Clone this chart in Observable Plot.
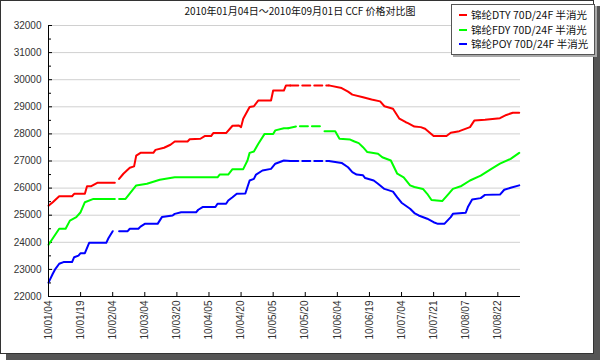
<!DOCTYPE html>
<html>
<head>
<meta charset="utf-8">
<script src="https://cdn.jsdelivr.net/npm/d3@7"></script>
<script src="https://cdn.jsdelivr.net/npm/@observablehq/plot@0.6"></script>
<style>
  html, body { margin: 0; padding: 0; background: #fff; }
  #wrap { position: relative; width: 600px; height: 360px; overflow: hidden; background: #fff; }
  #shadow { position: absolute; left: 6px; top: 6px; width: 594px; height: 354px; background: #555; }
  #panel { position: absolute; left: 0; top: 0; width: 592px; height: 352px; background: #fff; border: 1px solid #333; }
  #chart { position: absolute; left: 0; top: 0; }
  #title { position: absolute; left: 0; width: 600px; top: 3px; text-align: center;
           font: 10px "Noto Sans CJK SC", sans-serif; color: #111; white-space: nowrap; }
  #legend { position: absolute; left: 451px; top: 4px; width: 142px; height: 49px; background: #fff;
            border: 1px solid #555; box-shadow: 2px 2px 0 #aaa; font: 10.5px "Noto Sans CJK SC", sans-serif; color: #111; }
  .row { position: absolute; left: 0; height: 14px; line-height: 14px; white-space: nowrap; }
  .sw { position: absolute; left: 7px; top: 6px; width: 8px; height: 2px; }
  .lb { position: absolute; left: 19px; top: 0; }
</style>
</head>
<body>
<div id="wrap">
  <div id="shadow"></div>
  <div id="panel"></div>
  <div id="chart"></div>
  <div id="title"></div>
  <div id="legend"></div>
</div>
<script>
const titleText = "2010年01月04日～2010年09月01日 CCF 价格对比图";
const seriesNames = ["锦纶DTY 70D/24F 半消光", "锦纶FDY 70D/24F 半消光", "锦纶POY 70D/24F 半消光"];
const seriesColors = ["#ff0000", "#00ff00", "#0000ff"];

const xTickIdx = [0, 15, 30, 45, 60, 75, 90, 105, 120, 135, 150, 165, 180, 195, 210];
const xTickLabels = ["10/01/04", "10/01/19", "10/02/04", "10/03/04", "10/03/20", "10/04/05", "10/04/20",
  "10/05/05", "10/05/20", "10/06/04", "10/06/19", "10/07/04", "10/07/21", "10/08/07", "10/08/22"];
const yTicks = [22000, 23000, 24000, 25000, 26000, 27000, 28000, 29000, 30000, 31000, 32000];

// missing day (gap) after these indices, and dashed (no-quote) ranges
const gapAt = [32, 32, 32];
const dashRanges = [[113, 131], [112, 128.5], [113, 131]];

const dtyX = [0,2,5,11,12,17,18,20,23,31, 33,35,38,40,41,43,49,50,54,57,59,65,66,71,73,76,77,83,86,89,90,91,94,96,98,104,105,110,111,113,
  131,137,140,142,147,151,155,157,161,164,167,168,171,174,176,180,186,188,192,197,199,204,211,214,217,220];
const dtyY = [25350,25480,25700,25700,25790,25790,26070,26070,26200,26200, 26340,26530,26750,26800,27200,27300,27300,27410,27490,27600,27720,27720,27800,27820,27920,27920,28030,28030,28300,28310,28250,28560,28990,29020,29230,29230,29600,29600,29790,29790,
  29790,29690,29560,29450,29350,29270,29200,29020,28930,28560,28430,28400,28270,28250,28190,27920,27920,28040,28100,28250,28490,28520,28580,28700,28780,28780];

const fdyX = [0,5,8,10,13,15,17,21,31, 33,36,41,46,52,59,79,80,84,86,91,93,94,96,98,101,105,106,110,112,116,128,
  129,134,136,141,143,145,147,149,154,156,160,163,166,169,171,175,177,179,184,187,189,193,197,202,207,211,216,220];
const fdyY = [23910,24500,24500,24800,24930,25110,25480,25600,25600, 25600,25600,26100,26160,26310,26400,26400,26500,26500,26700,26700,27020,27300,27350,27630,28000,28000,28130,28210,28210,28280,28280,
  28100,28100,27820,27790,27720,27660,27510,27330,27270,27140,27020,26530,26400,26100,26040,25970,25790,25560,25520,25790,25970,26080,26280,26460,26710,26900,27080,27300];

const poyX = [0,2,3,5,7,11,12,14,15,17,19,27,28,30, 33,37,38,42,43,45,51,53,58,59,62,69,70,72,78,79,83,84,86,88,92,94,96,97,100,104,106,110,113,
  131,137,140,142,144,147,148,152,154,157,161,163,165,169,171,173,177,180,182,185,188,189,195,196,198,202,204,211,213,216,220];
const poyY = [22510,22840,22990,23210,23270,23270,23450,23510,23600,23600,23980,23980,24150,24410, 24410,24410,24500,24500,24580,24680,24680,24930,24990,25050,25110,25110,25200,25300,25300,25420,25420,25540,25660,25790,25800,26280,26340,26500,26650,26710,26900,27020,27000,
  27000,26930,26770,26590,26500,26470,26370,26280,26160,25970,25870,25660,25460,25240,25080,24990,24870,24740,24680,24680,24930,25050,25090,25300,25580,25630,25750,25760,25940,26010,26100];

const allX = [dtyX, fdyX, poyX];
const allY = [dtyY, fdyY, poyY];

const solid = [], dashed = [];
allX.forEach((xs, s) => {
  const [lo, hi] = dashRanges[s];
  xs.forEach((x, i) => {
    const y = allY[s][i];
    const p = {x, y, s, seg: x <= lo ? (x < gapAt[s] ? 0 : 1) : (x >= hi ? 3 : 2)};
    if (x <= lo || x >= hi) solid.push(p);
    if (x >= lo && x <= hi) dashed.push({...p, seg: 2});
  });
});

const minorTicks = d3.range(22500, 32000, 1000);

const chart = Plot.plot({
  width: 600,
  height: 360,
  marginTop: 25,
  marginLeft: 48,
  marginRight: 80,
  marginBottom: 64,
  style: {fontFamily: "'Liberation Sans', Arial, sans-serif", fontSize: "10px", background: "transparent", color: "#222"},
  x: {domain: [0, 220.6], label: null},
  y: {domain: [22000, 32000], label: null},
  marks: [
    Plot.gridY(yTicks, {stroke: "#d0d0d0", strokeOpacity: 1}),
    Plot.axisY(yTicks, {tickSize: 0, tickPadding: 7, tickFormat: d => String(d), fill: "#333"}),
    Plot.axisY(yTicks, {tickSize: -4, fill: "none", stroke: "#000"}),
    Plot.axisY(minorTicks, {tickSize: -3, fill: "none", stroke: "#000"}),
    Plot.axisX(xTickIdx, {tickSize: 0, tickPadding: 4, tickRotate: -90, tickFormat: (d, i) => xTickLabels[i], fill: "#333"}),
    Plot.axisX(xTickIdx, {tickSize: -4, fill: "none", stroke: "#000"}),
    Plot.line(solid, {x: "x", y: "y", z: d => d.s * 10 + d.seg, stroke: d => seriesColors[d.s], strokeWidth: 2, curve: "linear"}),
    Plot.line(dashed, {x: "x", y: "y", z: "s", stroke: d => seriesColors[d.s], strokeWidth: 2, strokeDasharray: "8,4"}),
    Plot.ruleX([0], {stroke: "#000"}),
    Plot.ruleY([22000], {stroke: "#000"})
  ]
});
document.getElementById("chart").appendChild(chart);
document.getElementById("title").textContent = titleText;

const leg = document.getElementById("legend");
seriesNames.forEach((n, i) => {
  const r = document.createElement("div");
  r.className = "row";
  r.style.top = (3 + i * 14.5) + "px";
  r.style.width = "140px";
  const sw = document.createElement("div");
  sw.className = "sw";
  sw.style.background = seriesColors[i];
  const lb = document.createElement("div");
  lb.className = "lb";
  lb.textContent = n;
  r.appendChild(sw); r.appendChild(lb);
  leg.appendChild(r);
});
</script>
</body>
</html>
